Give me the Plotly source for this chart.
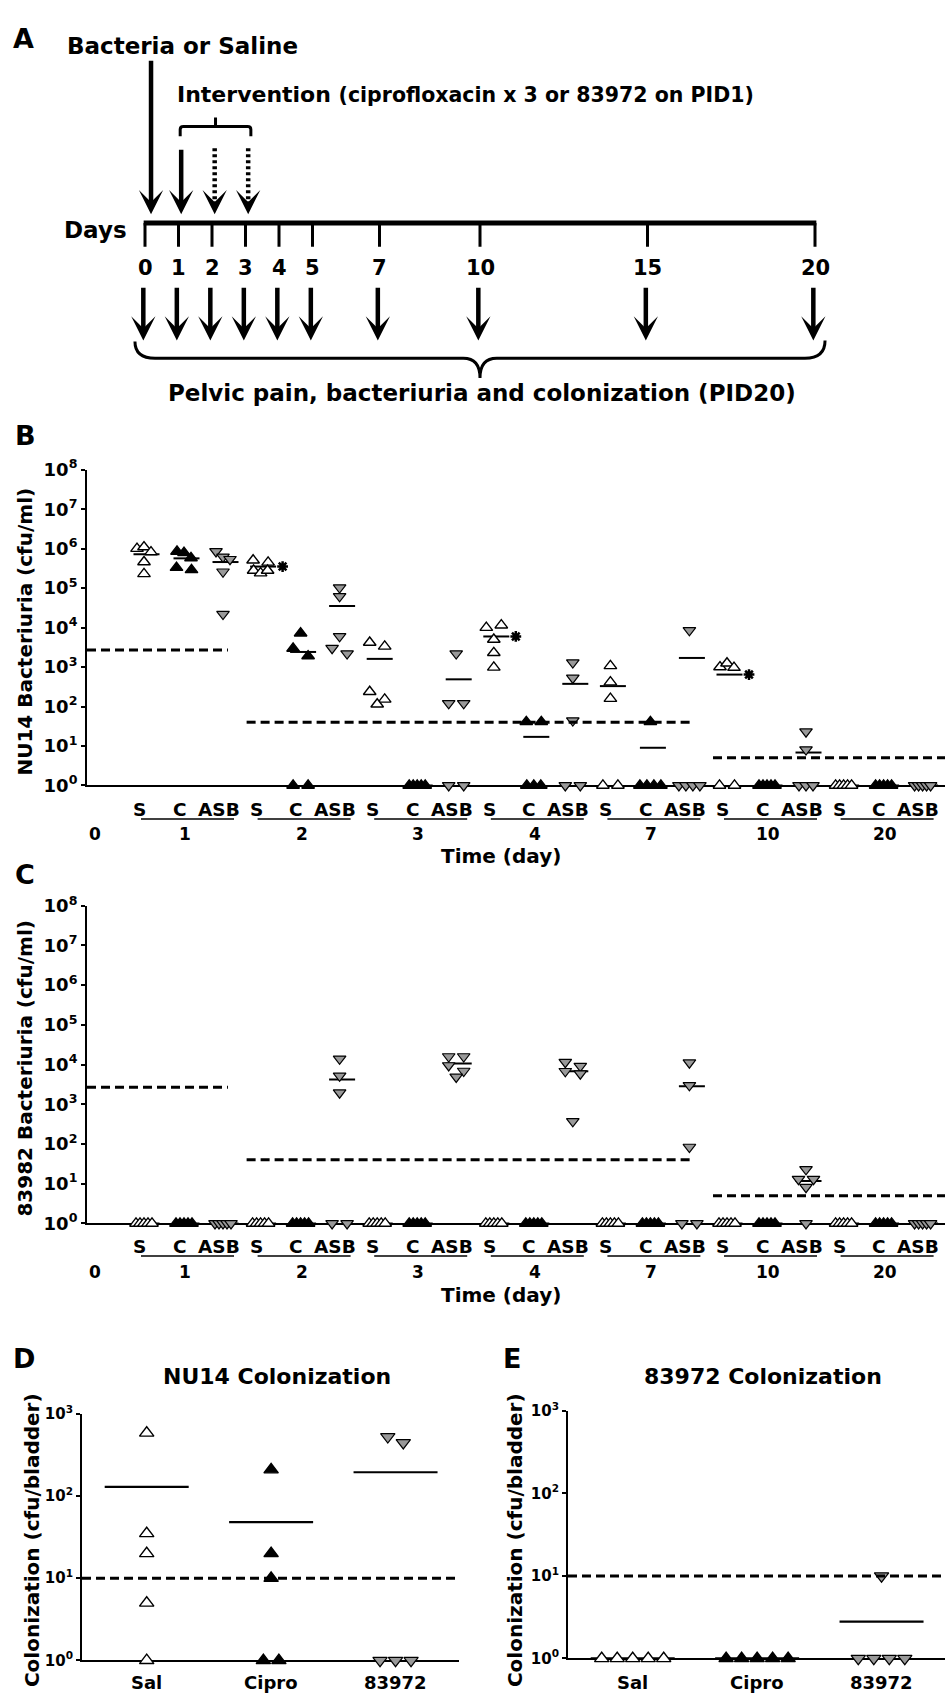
import numpy as np
import plotly.graph_objects as go

W, H = 948, 1703
FONT = "DejaVu Sans"

# ---------------- data ----------------
day_labels = ["1", "2", "3", "4", "7", "10", "20"]
group_labels = ["S", "C", "ASB"]

# Panel B: NU14 bacteriuria (cfu/ml), five mice per group and day
nu14_saline = [
    [1.0e6, 1.1e6, 8.2e5, 4.6e5, 2.3e5],
    [5.1e5, 4.5e5, 2.8e5, 2.4e5, 2.8e5],
    [4200, 3350, 237, 152, 114],
    [10000, 11500, 5000, 2300, 980],
    [1070, 414, 158, 1, 1],
    [1000, 1250, 970, 1, 1],
    [1, 1, 1, 1, 1],
]
nu14_cipro = [
    [8.5e5, 7.9e5, 5.8e5, 3.3e5, 2.9e5],
    [7200, 2960, 1900, 1, 1],
    [1, 1, 1, 1, 1],
    [41, 41, 1, 1, 1],
    [41, 1, 1, 1, 1],
    [1, 1, 1, 1, 1],
    [1, 1, 1, 1, 1],
]
nu14_asb = [
    [8.5e5, 6.2e5, 5.4e5, 2.6e5, 2.2e4],
    [1.03e5, 6.2e4, 6000, 3000, 2200],
    [2200, 120, 120, 1, 1],
    [1300, 530, 44, 1, 1],
    [8500, 1, 1, 1, 1],
    [23, 8.1, 1, 1, 1],
    [1, 1, 1, 1, 1],
]

# Panel C: 83972 bacteriuria (cfu/ml)
e83_saline = [
    [1, 1, 1, 1, 1], [1, 1, 1, 1, 1], [1, 1, 1, 1, 1], [1, 1, 1, 1, 1],
    [1, 1, 1, 1, 1], [1, 1, 1, 1, 1], [1, 1, 1, 1, 1],
]
e83_cipro = [
    [1, 1, 1, 1, 1], [1, 1, 1, 1, 1], [1, 1, 1, 1, 1], [1, 1, 1, 1, 1],
    [1, 1, 1, 1, 1], [1, 1, 1, 1, 1], [1, 1, 1, 1, 1],
]
e83_asb = [
    [1, 1, 1, 1, 1],
    [14000, 5200, 1960, 1, 1],
    [16000, 16000, 9500, 6900, 4900],
    [11500, 9200, 6800, 5900, 372],
    [11200, 3000, 84, 1, 1],
    [23, 13, 13, 8.2, 1],
    [1, 1, 1, 1, 1],
]

# detection limits (dashed lines) and the day-groups they span
lod_bacteriuria = [2700, 40, 5]
lod_first_group = [0, 1, 5]
lod_last_group = [0, 4, 6]
starred_days = ["2", "4", "10"]   # asterisk next to saline group

# Panels D/E: colonization (cfu/bladder)
col_groups = ["Sal", "Cipro", "83972"]
nu14_colonization = [[585, 35, 20, 5, 1], [209, 20, 10, 1, 1], [525, 445, 1, 1, 1]]
e83_colonization = [[1, 1, 1, 1, 1], [1, 1, 1, 1, 1], [10, 1, 1, 1, 1]]
lod_colonization = 10

# Panel A schematic
timeline_days = [0, 1, 2, 3, 4, 5, 7, 10, 15, 20]
intervention_days = [1, 2, 3]

# ---------------- styles / geometry ----------------
STYLES = [
    dict(symbol="triangle-up", color="white", line=dict(color="black", width=1.4)),
    dict(symbol="triangle-up", color="black", line=dict(color="black", width=1.4)),
    dict(symbol="triangle-down", color="#999999", line=dict(color="black", width=1.2)),
]
U = 116.6          # px per day-group (panels B, C)
X0 = 144.0         # px of first saline cluster
SUB_PX = [0, 40, 79]
BX_L, BX_R = 87, 945


def pxx(X):
    return X / W


def pxy(Y):
    return 1 - Y / H


annotations = []
shapes = []


def txt(text, x, y, size, xref="paper", yref="paper", xanchor="center",
        yanchor="middle", angle=0):
    if xref == "paper":
        x = pxx(x)
    if yref == "paper":
        y = pxy(y)
    annotations.append(dict(text="<b>%s</b>" % text, x=x, y=y, xref=xref, yref=yref,
                            xanchor=xanchor, yanchor=yanchor, showarrow=False,
                            textangle=angle, font=dict(family=FONT, size=size, color="black")))


def swarm(values, center, ppd, thresh, steps, unit):
    logs = np.log10(np.asarray(values, dtype=float))
    order = sorted(range(len(values)), key=lambda i: -logs[i])
    rows = []
    for i in order:
        if rows and (logs[rows[-1][0]] - logs[i]) * ppd < thresh:
            rows[-1].append(i)
        else:
            rows.append([i])
    xs = [0.0] * len(values)
    for row in rows:
        n = len(row)
        st = steps.get(n, steps[0])
        for j, i in enumerate(sorted(row)):
            xs[i] = center + (j - (n - 1) / 2) * st / unit
    return xs


fig = go.Figure()


def log_ticks(n):
    return [10 ** k for k in range(n + 1)], ["<b>10<sup>%d</sup></b>" % k for k in range(n + 1)]


def bacteriuria_panel(idx, series, top, bottom, ytitle, letter, letter_y,
                      lab_y, ul_y, day_y, time_y, with_stars):
    xa = "x" if idx == 1 else "x%d" % idx
    ya = "y" if idx == 1 else "y%d" % idx
    ppd = (bottom - top) / 8.0
    steps = {0: 4, 1: 0, 2: 15, 3: 7, 4: 7, 5: 4}
    for g, groups in enumerate(series):
        xs, ys, mx, my = [], [], [], []
        for d, vals in enumerate(groups):
            c = d + SUB_PX[g] / U
            xs += swarm(vals, c, ppd, 8, steps, U)
            ys += vals
            m = float(np.mean(vals))
            mx += [c + 2.5 / U - 13 / U, c + 2.5 / U + 13 / U, None]
            my += [m, m, None]
        fig.add_trace(go.Scatter(x=mx, y=my, mode="lines", xaxis=xa, yaxis=ya,
                                 line=dict(color="black", width=2), cliponaxis=False,
                                 hoverinfo="skip"))
        fig.add_trace(go.Scatter(x=xs, y=ys, mode="markers", xaxis=xa, yaxis=ya,
                                 marker=dict(size=11, **STYLES[g]), cliponaxis=False))
    # detection limits
    left = (BX_L - X0) / U
    right = (BX_R - X0) / U
    lx, ly = [], []
    for v, f, l in zip(lod_bacteriuria, lod_first_group, lod_last_group):
        x_a = left if f == 0 else f - 0.12
        x_b = right if l == len(day_labels) - 1 else l + 0.72
        lx += [x_a, x_b, None]
        ly += [v, v, None]
    fig.add_trace(go.Scatter(x=lx, y=ly, mode="lines", xaxis=xa, yaxis=ya,
                             line=dict(color="black", width=3, dash="9px,5px"),
                             cliponaxis=False, hoverinfo="skip"))
    if with_stars:
        sx, sy = [], []
        for d, lab in enumerate(day_labels):
            if lab in starred_days:
                sx.append(d + 22 / U)
                sy.append(float(np.mean(series[0][d])))
        fig.add_trace(go.Scatter(x=sx, y=sy, mode="markers", xaxis=xa, yaxis=ya,
                                 marker=dict(symbol="asterisk-open", size=9, color="black",
                                             line=dict(color="black", width=2.5)),
                                 cliponaxis=False))
    tv, tt = log_ticks(8)
    fig.update_layout(**{
        ("xaxis" if idx == 1 else "xaxis%d" % idx): dict(
            domain=[pxx(BX_L), pxx(BX_R)], range=[left, right], showline=True,
            linecolor="black", linewidth=2, showgrid=False, zeroline=False,
            showticklabels=False, ticks="", anchor=ya, layer="below traces"),
        ("yaxis" if idx == 1 else "yaxis%d" % idx): dict(
            domain=[pxy(bottom), pxy(top)], type="log", range=[0, 8], showline=True,
            linecolor="black", linewidth=2, showgrid=False, zeroline=False,
            tickvals=tv, ticktext=tt, ticks="outside", ticklen=4, tickwidth=2,
            tickcolor="black", tickfont=dict(family=FONT, size=18, color="black"),
            anchor=xa, layer="below traces"),
    })
    # category labels under the axis
    for d, lab in enumerate(day_labels):
        for g, gl in enumerate(group_labels):
            txt(gl, d + (SUB_PX[g] - 4.5) / U, lab_y, 18.5, xref=xa)
        shapes.append(dict(type="line", xref=xa, yref="paper", x0=d - 3 / U, x1=d + 90 / U,
                           y0=pxy(ul_y), y1=pxy(ul_y), line=dict(color="black", width=1.5)))
        txt(lab, d + 41 / U, day_y, 17, xref=xa)
    txt("0", 95, day_y, 17)
    txt("Time (day)", 501, time_y, 20)
    txt(ytitle, 25, (top + bottom) / 2 + 4, 20, angle=-90)
    txt(letter, 25, letter_y, 27)


bacteriuria_panel(1, [nu14_saline, nu14_cipro, nu14_asb], 463, 783,
                  "NU14 Bacteriuria (cfu/ml)", "B", 428, 807, 817, 832, 855, True)
bacteriuria_panel(2, [e83_saline, e83_cipro, e83_asb], 905, 1227,
                  "83982 Bacteriuria (cfu/ml)", "C", 873, 1250, 1260, 1276, 1300, False)


def colonization_panel(idx, data, xl, xr, top, bottom, title, tx, letter, lx_, ytx):
    xa, ya = "x%d" % idx, "y%d" % idx
    unit = (xr - xl) / 3.03
    ppd = (bottom - top) / 3.0
    steps = {0: 15.5}
    for g, vals in enumerate(data):
        xs = swarm(vals, g, ppd, 12, steps, unit)
        m = float(np.mean(vals))
        fig.add_trace(go.Scatter(x=[g - 42 / unit, g + 42 / unit], y=[m, m], mode="lines",
                                 xaxis=xa, yaxis=ya, line=dict(color="black", width=2.2),
                                 cliponaxis=False, hoverinfo="skip"))
        fig.add_trace(go.Scatter(x=xs, y=vals, mode="markers", xaxis=xa, yaxis=ya,
                                 marker=dict(size=12.5, **STYLES[g]), cliponaxis=False))
        txt(col_groups[g], g, 1692, 18, xref=xa)
    rng = [-0.52, 2.51]
    fig.add_trace(go.Scatter(x=rng, y=[lod_colonization] * 2, mode="lines", xaxis=xa,
                             yaxis=ya, line=dict(color="black", width=3, dash="9px,5px"),
                             cliponaxis=False, hoverinfo="skip"))
    tv, tt = log_ticks(3)
    fig.update_layout(**{
        "xaxis%d" % idx: dict(domain=[pxx(xl), pxx(xr)], range=rng, showline=True,
                              linecolor="black", linewidth=2, showgrid=False, zeroline=False,
                              showticklabels=False, ticks="", anchor=ya, layer="below traces"),
        "yaxis%d" % idx: dict(domain=[pxy(bottom), pxy(top)], type="log", range=[0, 3],
                              showline=True, linecolor="black", linewidth=2, showgrid=False,
                              zeroline=False, tickvals=tv, ticktext=tt, ticks="outside",
                              ticklen=4, tickwidth=2, tickcolor="black",
                              tickfont=dict(family=FONT, size=15, color="black"),
                              anchor=xa, layer="below traces"),
    })
    txt(title, tx, 1382, 22)
    txt(letter, lx_, 1364, 27)
    txt("Colonization (cfu/bladder)", ytx, 1548, 20, angle=-90)


colonization_panel(3, nu14_colonization, 82, 459, 1420, 1670, "NU14 Colonization", 277, "D", 24, 32)
colonization_panel(4, e83_colonization, 568, 945, 1417, 1668, "83972 Colonization", 763, "E", 512, 515)

# ---------------- Panel A schematic (x = day, y = px from top) ----------------
DAY0, DPX = 145.0, 33.5
fig.update_layout(
    xaxis5=dict(domain=[0, 1], range=[-DAY0 / DPX, (W - DAY0) / DPX], visible=False,
                anchor="y5"),
    yaxis5=dict(domain=[pxy(420), 1], range=[420, 0], visible=False, anchor="x5"),
)


def arrow(xd, y_tail, y_tip):
    annotations.append(dict(x=xd, y=y_tip, ax=xd, ay=y_tail, xref="x5", yref="y5",
                            axref="x5", ayref="y5", text="", showarrow=True, arrowhead=3,
                            arrowsize=0.9, arrowwidth=4.5, arrowcolor="black"))


def seg(x0, y0, x1, y1, w, dash="solid"):
    shapes.append(dict(type="line", xref="x5", yref="y5", x0=x0, y0=y0, x1=x1, y1=y1,
                       line=dict(color="black", width=w, dash=dash)))


# inoculation arrow
arrow(timeline_days[0] + 0.18, 47, 204)
# intervention arrows
for k, d in enumerate(intervention_days):
    if k == 0:
        arrow(d + 0.08, 137, 204)
    else:
        seg(d + 0.08, 137, d + 0.08, 190, 4.5, dash="3px,3px")
        arrow(d + 0.08, 192, 204)
b_l = intervention_days[0] + 0.05
b_r = intervention_days[-1] + 0.16
b_c = (b_l + b_r) / 2
shapes.append(dict(type="path", xref="x5", yref="y5",
                   path="M%.3f,125 L%.3f,118 Q%.3f,115 %.3f,115 L%.3f,115 Q%.3f,115 %.3f,118 L%.3f,125"
                        % (b_l, b_l, b_l, b_l + 0.1, b_r - 0.1, b_r, b_r, b_r),
                   line=dict(color="black", width=3)))
seg(b_c, 115, b_c, 106, 3)
# timeline
seg(timeline_days[0] - 0.04, 213, timeline_days[-1] + 0.04, 213, 5)
for d in timeline_days:
    seg(d, 213, d, 237, 3)
    annotations.append(dict(text="<b>%d</b>" % d, x=d, y=258, xref="x5", yref="y5",
                            showarrow=False, font=dict(family=FONT, size=21, color="black")))
    arrow(d - 0.05, 277, 332)
# bottom brace
mid = (timeline_days[0] + timeline_days[-1]) / 2
L0, R0 = timeline_days[0] - 0.3, timeline_days[-1] + 0.3
shapes.append(dict(type="path", xref="x5", yref="y5",
                   path=("M%.3f,333 Q%.3f,350 %.3f,350 L%.3f,350 Q%.3f,350 %.3f,370 "
                         "Q%.3f,350 %.3f,350 L%.3f,350 Q%.3f,350 %.3f,332")
                        % (L0, L0, L0 + 0.6, mid - 0.5, mid, mid, mid, mid + 0.5,
                           R0 - 0.6, R0, R0),
                   line=dict(color="black", width=3)))

txt("A", 23, 26, 27)
txt("Bacteria or Saline", 65, 33, 23, xanchor="left")
annotations.append(dict(
    text="<b>Intervention <span style='font-size:20.5px'>(ciprofloxacin x 3 or 83972 on PID1)</span></b>",
    x=pxx(175), y=pxy(83), xref="paper", yref="paper", xanchor="left", yanchor="middle",
    showarrow=False, font=dict(family=FONT, size=22, color="black")))
txt("Days", 95, 220, 23)
txt("Pelvic pain, bacteriuria and colonization (PID20)", 482, 385, 23)

fig.update_layout(width=W, height=H, margin=dict(l=0, r=0, t=0, b=0),
                  paper_bgcolor="white", plot_bgcolor="white", showlegend=False,
                  annotations=annotations, shapes=shapes,
                  font=dict(family=FONT, color="black"))
fig.write_html("out.html", config={"displayModeBar": False},
               post_script="document.body.style.margin='0';"
                           "document.documentElement.style.overflow='hidden';")
